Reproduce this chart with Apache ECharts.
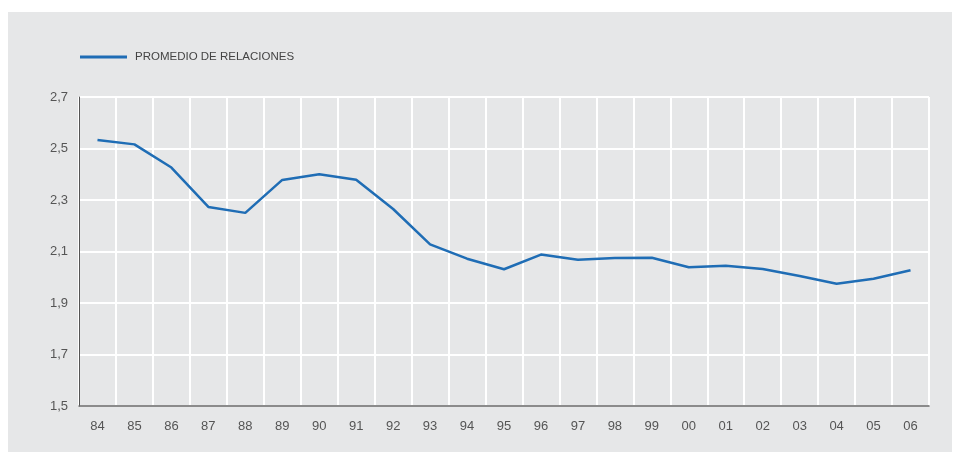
<!DOCTYPE html>
<html>
<head>
<meta charset="utf-8">
<script src="https://cdn.jsdelivr.net/npm/echarts@6/dist/echarts.min.js"></script>
<style>
  html, body { margin: 0; padding: 0; background: #fff; }
  #chart { position: absolute; left: 8px; top: 12px; width: 944px; height: 440px; background: #e6e7e8; }
</style>
</head>
<body>
<div id="chart"></div>
<script>
// años 1984-2006
const years = ["84","85","86","87","88","89","90","91","92","93","94","95","96","97","98","99","00","01","02","03","04","05","06"];
const promedio = [2.533, 2.516, 2.426, 2.273, 2.250, 2.378, 2.400, 2.379, 2.265, 2.128, 2.072, 2.031, 2.088, 2.068, 2.075, 2.076, 2.039, 2.045, 2.032, 2.005, 1.975, 1.994, 2.027];
const seriesName = "PROMEDIO DE RELACIONES";

let myChart = echarts.init(document.getElementById("chart"));
let option = {
  backgroundColor: "#e6e7e8",
  textStyle: { fontFamily: "Liberation Sans, Arial, sans-serif" },
  legend: {
    left: 67,
    top: 34,
    icon: "rect",
    itemWidth: 47,
    itemHeight: 3,
    itemGap: 8,
    selectedMode: false,
    textStyle: { color: "#444", fontSize: 11.5, padding: [0, 0, 0, 3] },
    data: [seriesName]
  },
  grid: { left: 71, right: 23, top: 85, bottom: 46 },
  xAxis: {
    type: "category",
    data: years,
    boundaryGap: true,
    axisLine: { lineStyle: { color: "#666", width: 1.5 } },
    axisTick: { show: false },
    axisLabel: { color: "#555", fontSize: 13, margin: 14 },
    splitLine: { show: true, lineStyle: { color: "#fff", width: 2 } }
  },
  yAxis: {
    type: "value",
    min: 1.5,
    max: 2.7,
    interval: 0.2,
    axisLine: { show: true, lineStyle: { color: "#555", width: 1 } },
    axisTick: { show: false },
    axisLabel: {
      color: "#555",
      fontSize: 13,
      margin: 11,
      formatter: function (v) { return v.toFixed(1).replace(".", ","); }
    },
    splitLine: { lineStyle: { color: "#fff", width: 2 } }
  },
  series: [
    {
      name: seriesName,
      type: "line",
      data: promedio,
      symbol: "none",
      color: "#1f6db5",
      lineStyle: { width: 2.5, color: "#1f6db5" },
      animation: false
    }
  ]
};
myChart.setOption(option);
</script>
</body>
</html>
